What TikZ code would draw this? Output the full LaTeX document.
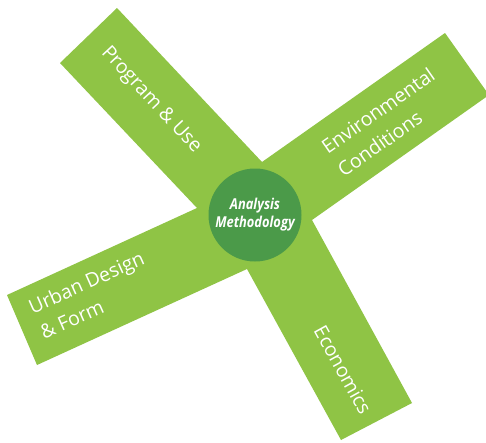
\documentclass[tikz,border=0pt]{standalone}
\usepackage{fontspec}
\setmainfont{Open Sans}
\newfontfamily\circfont[FakeStretch=0.86]{Open Sans}
\definecolor{barGreen}{HTML}{8FC445}
\definecolor{hubGreen}{HTML}{4B9A49}
\tikzset{
  bar/.style={fill=barGreen, draw=none},
  barlabel/.style={text=white, font=\fontsize{19.5}{28}\selectfont, align=left, inner sep=0pt},
  hub/.style={circle, fill=hubGreen, minimum size=93pt, inner sep=0pt, text=white,
    font=\circfont\bfseries\itshape\fontsize{15}{18}\selectfont, align=center}
}
\begin{document}
\begin{tikzpicture}[x=1pt,y=-1pt]
\useasboundingbox (0,0) rectangle (486,442);
\clip (0,0) rectangle (486,442);
\fill[white] (0,0) rectangle (486,442);
% four bars as one star-shaped outline
\path[bar] (60,63) -- (117,8) -- (262,162) -- (445,33) -- (489,95) -- (312,220)
  -- (412,403) -- (341,440) -- (247,269) -- (37,365) -- (7,295) -- (197,208) -- cycle;
\node[hub] (hubc) at (255,215) {Analysis\\Methodology};
\node[barlabel, rotate=-47] (prog) at (151,100) {Program \& Use};
\node[barlabel, rotate=35] (env) at (386,122) {Environmental\\Conditions};
\node[barlabel, rotate=24] (urban) at (92,295) {Urban Design\\\& Form};
\node[barlabel, rotate=-61] (eco) at (343,370) {Economics};
\end{tikzpicture}
\end{document}
